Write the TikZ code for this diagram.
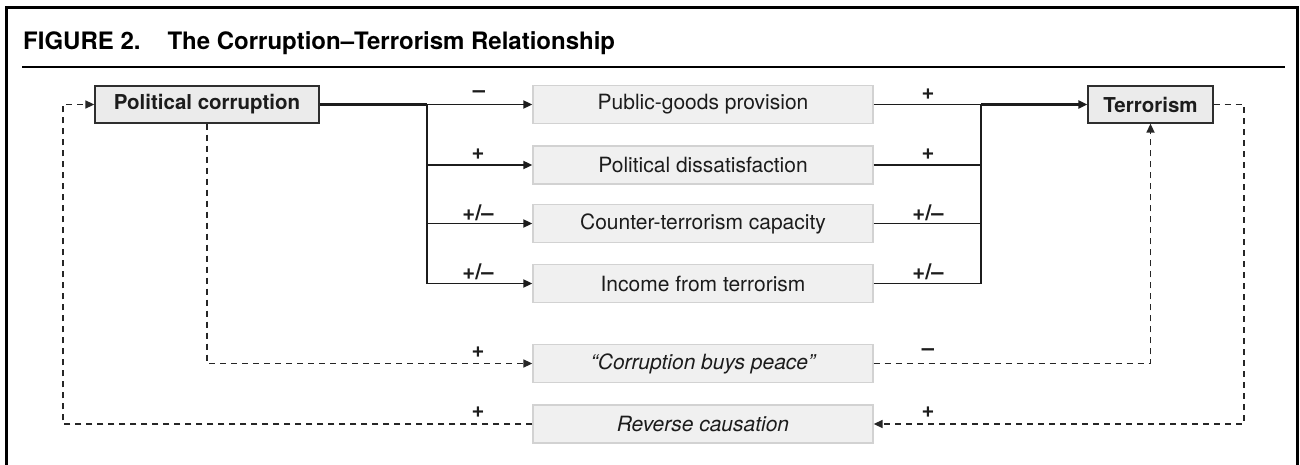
\documentclass[tikz,border=0pt]{standalone}
\usepackage{fontspec}
\setmainfont{TeX Gyre Heros}
\usetikzlibrary{arrows.meta}
\definecolor{ink}{HTML}{1C1C1C}
\definecolor{boxedge}{HTML}{2E2E2E}
\definecolor{mainfill}{HTML}{EBEBEB}
\definecolor{softfill}{HTML}{F0F0F0}
\definecolor{softedge}{HTML}{D2D2D2}
\definecolor{dashink}{HTML}{262626}
\begin{document}
\begin{tikzpicture}[x=1pt,y=-1pt,
  tip/.style={-{Triangle[length=9pt,width=8pt]}},
  mainbox/.style={draw=boxedge, fill=mainfill, line width=1.3pt,
    minimum width=#1, minimum height=37pt, inner sep=0pt, text=ink,
    font=\fontsize{20.5}{24}\selectfont\bfseries},
  factor/.style={draw=softedge, fill=softfill, line width=1.3pt,
    minimum width=340pt, minimum height=38pt, inner sep=0pt, text=ink,
    font=\fontsize{21}{25}\selectfont},
  sign/.style={text=ink, inner sep=0pt, font=\fontsize{22}{26}\selectfont\bfseries},
  heavy/.style={draw=ink, line width=2.3pt},
  branch/.style={draw=ink, line width=1.8pt},
  loop/.style={draw=dashink, line width=1.6pt, dash pattern=on 6pt off 5pt}
]
\useasboundingbox (0,0) rectangle (1300,465);

% frame and heading
\draw[line width=3pt, draw=black] (6.5,470) -- (6.5,7.5) -- (1297.5,7.5) -- (1297.5,470);
\node[anchor=base west, inner sep=0pt, text=black,
      font=\fontsize{24}{28}\selectfont\bfseries] (title) at (23,50)
  {FIGURE 2.\hspace{27pt}The Corruption–Terrorism Relationship};
\draw[line width=2.5pt, draw=black] (22,67) -- (1285,67);

% main variables
\node[mainbox=224pt] (pc)  at (207,104.5)    {Political corruption};
\node[mainbox=125pt] (ter) at (1150.5,104.5) {Terrorism};

% mechanisms
\node[factor] (m1) at (703,104.5) {Public-goods provision};
\node[factor] (m2) at (703,165)   {Political dissatisfaction};
\node[factor] (m3) at (703,223.5) {Counter-terrorism capacity};
\node[factor] (m4) at (703,283.5) {Income from terrorism};
\node[factor] (m5) at (703,363.5) {\itshape “Corruption buys peace”};
\node[factor] (m6) at (703,424)   {\itshape Reverse causation};

% junction points of the two busbars
\coordinate (tl) at (427,104.5);
\coordinate (tr) at (981,104.5);

% corruption -> mechanisms
\draw[heavy] (pc.east) -- (tl);
\draw[heavy] (tl) -- (tl |- m4.west);
\draw[branch,tip] (tl) -- (m1.west);
\foreach \m in {m2,m3,m4}
  \draw[branch,tip] (tl |- \m.west) -- (\m.west);

% mechanisms -> terrorism
\foreach \m in {m1,m2,m3,m4}
  \draw[branch] (\m.east) -- (tr |- \m.east);
\draw[heavy] (tr) -- (tr |- m4.east);
\draw[heavy,tip] (tr) -- (ter.west);

% signs on the solid paths
\node[sign] (s1l) at (479,94)  {–};
\node[sign] (s2l) at (478,154) {+};
\node[sign] (s3l) at (478,213) {+/–};
\node[sign] (s4l) at (478,272) {+/–};
\node[sign] (s1r) at (928,94)  {+};
\node[sign] (s2r) at (928,154) {+};
\node[sign] (s3r) at (928,213) {+/–};
\node[sign] (s4r) at (928,272) {+/–};

% dashed alternative paths
\coordinate (ol) at (63,424);
\coordinate (or) at (1244,424);
\draw[loop,tip] (pc.south) |- (m5.west);
\draw[loop,tip] (m5.east) -| (ter.south);
\draw[loop,tip] (ter.east) -| (or) -- (m6.east);
\draw[loop,tip] (m6.west) -- (ol) |- (pc.west);

\node[sign] (s5l) at (478,352) {+};
\node[sign] (s5r) at (928,352) {–};
\node[sign] (s6l) at (478,412) {+};
\node[sign] (s6r) at (928,412) {+};
\end{tikzpicture}
\end{document}
